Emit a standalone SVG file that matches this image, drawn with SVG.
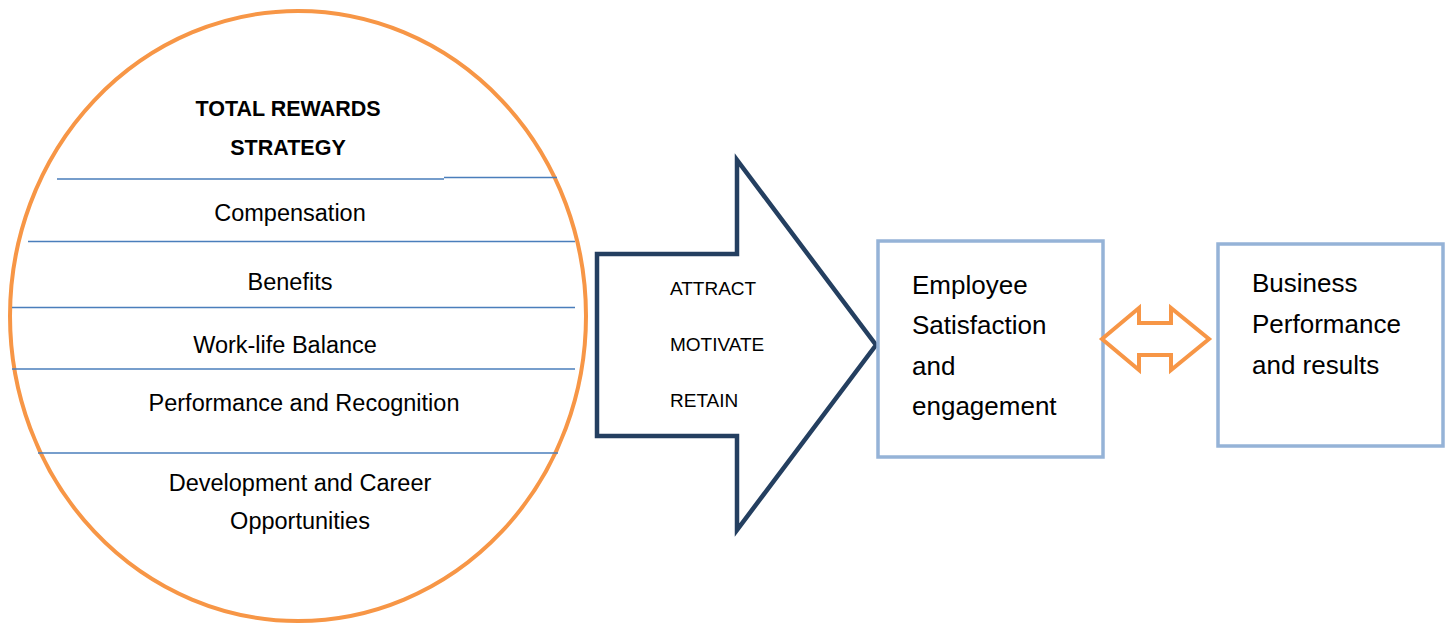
<svg xmlns="http://www.w3.org/2000/svg" width="1449" height="623" viewBox="0 0 1449 623">
<style>
.t{font-family:"Liberation Sans",Arial,sans-serif;fill:#000}
.c{font-size:23.5px;text-anchor:middle}
.h{font-size:21.5px;font-weight:bold;text-anchor:middle}
.a{font-size:19px}
.b{font-size:26px}
.div{stroke:#4A7EBB;stroke-width:1.6;fill:none}
.box{fill:#fff;stroke:#95B3D7;stroke-width:3.5}
</style>
<rect width="1449" height="623" fill="#fff"/>
<g id="circle">
<ellipse cx="298" cy="316" rx="288" ry="305" fill="#fff" stroke="#F79646" stroke-width="4"/>
<path class="div" d="M57 179H444M444 177.5H557"/>
<path class="div" d="M28 241.5H575"/>
<path class="div" d="M12 307.5H575"/>
<path class="div" d="M12 369H575"/>
<path class="div" d="M38 453H558"/>
<text class="t h" x="288" y="116">TOTAL REWARDS</text>
<text class="t h" x="288" y="155">STRATEGY</text>
<text class="t c" x="290" y="221">Compensation</text>
<text class="t c" x="290" y="290">Benefits</text>
<text class="t c" x="285" y="353">Work-life Balance</text>
<text class="t c" x="304" y="411">Performance and Recognition</text>
<text class="t c" x="300" y="491">Development and Career</text>
<text class="t c" x="300" y="529">Opportunities</text>
</g>
<g id="arrow">
<polygon points="597,254 737,254 737,160 876,345 737,530 737,436 597,436" fill="#fff" stroke="#243F60" stroke-width="4.5" stroke-linejoin="miter"/>
<text class="t a" x="670" y="295">ATTRACT</text>
<text class="t a" x="670" y="351">MOTIVATE</text>
<text class="t a" x="670" y="407">RETAIN</text>
</g>
<g id="employee">
<rect class="box" x="878" y="241" width="225" height="216"/>
<text class="t b" x="912" y="294">Employee</text>
<text class="t b" x="912" y="334">Satisfaction</text>
<text class="t b" x="912" y="375">and</text>
<text class="t b" x="912" y="415">engagement</text>
</g>
<g id="business">
<rect class="box" x="1218" y="244" width="225" height="202"/>
<text class="t b" x="1252" y="292">Business</text>
<text class="t b" x="1252" y="333">Performance</text>
<text class="t b" x="1252" y="374">and results</text>
</g>
<g id="connectors">
<polygon points="1102,339 1139,308 1139,323 1171,323 1171,308 1209,339 1171,370 1171,355 1139,355 1139,370" fill="#fff" stroke="#F79646" stroke-width="4" stroke-linejoin="miter"/>
</g>
</svg>
